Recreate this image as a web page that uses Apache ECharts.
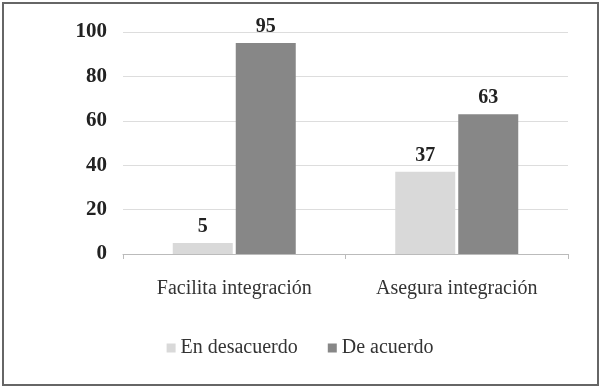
<!DOCTYPE html>
<html>
<head>
<meta charset="utf-8">
<script src="https://cdn.jsdelivr.net/npm/echarts@6/dist/echarts.min.js"></script>
<style>
  html, body { margin: 0; padding: 0; background: #fff; }
  #frame { position: absolute; left: 2px; top: 2px; width: 593px; height: 380px; border: 2px solid #666; }
  #chart { position: absolute; left: 0; top: 0; width: 600px; height: 388px; }
</style>
</head>
<body>
<div id="frame"></div>
<div id="chart"></div>
<script>
const categories = ['Facilita integración', 'Asegura integración']
const seriesNames = ['En desacuerdo', 'De acuerdo']
const desacuerdo = [5, 37]
const acuerdo = [95, 63]
const yTicks = [0, 20, 40, 60, 80, 100]

const serif = 'Liberation Serif'
const chart = echarts.init(document.getElementById('chart'), null, { renderer: 'canvas' })

const labelStyle = {
  show: true,
  position: 'top',
  distance: 6,
  color: '#222',
  fontFamily: serif,
  fontWeight: 'bold',
  fontSize: 20,
}

chart.setOption({
  animation: false,
  textStyle: { fontFamily: serif },
  grid: { left: 123, right: 32, top: 32, bottom: 134 },
  legend: {
    data: seriesNames,
    top: 333,
    left: 'center',
    itemWidth: 9,
    itemHeight: 9,
    itemGap: 30,
    icon: 'rect',
    textStyle: { fontFamily: serif, fontSize: 20, color: '#333' },
  },
  xAxis: {
    type: 'category',
    data: categories,
    axisLine: { lineStyle: { color: '#bbb', width: 1 } },
    axisTick: { show: true, length: 5, lineStyle: { color: '#bbb' } },
    axisLabel: { fontFamily: serif, fontSize: 20, color: '#333', margin: 25 },
  },
  yAxis: {
    type: 'value',
    min: yTicks[0],
    max: yTicks[yTicks.length - 1],
    interval: 20,
    axisLine: { show: false },
    axisTick: { show: false },
    axisLabel: { fontFamily: serif, fontWeight: 'bold', fontSize: 21, color: '#222', margin: 16 },
    splitLine: { lineStyle: { color: '#ddd', width: 1 } },
  },
  series: [
    {
      name: seriesNames[0],
      type: 'bar',
      data: desacuerdo,
      barWidth: 60,
      barGap: '5%',
      itemStyle: { color: '#d9d9d9' },
      label: labelStyle,
    },
    {
      name: seriesNames[1],
      type: 'bar',
      data: acuerdo,
      barWidth: 60,
      barGap: '5%',
      itemStyle: { color: '#878787' },
      label: labelStyle,
    },
  ],
})
</script>
</body>
</html>
